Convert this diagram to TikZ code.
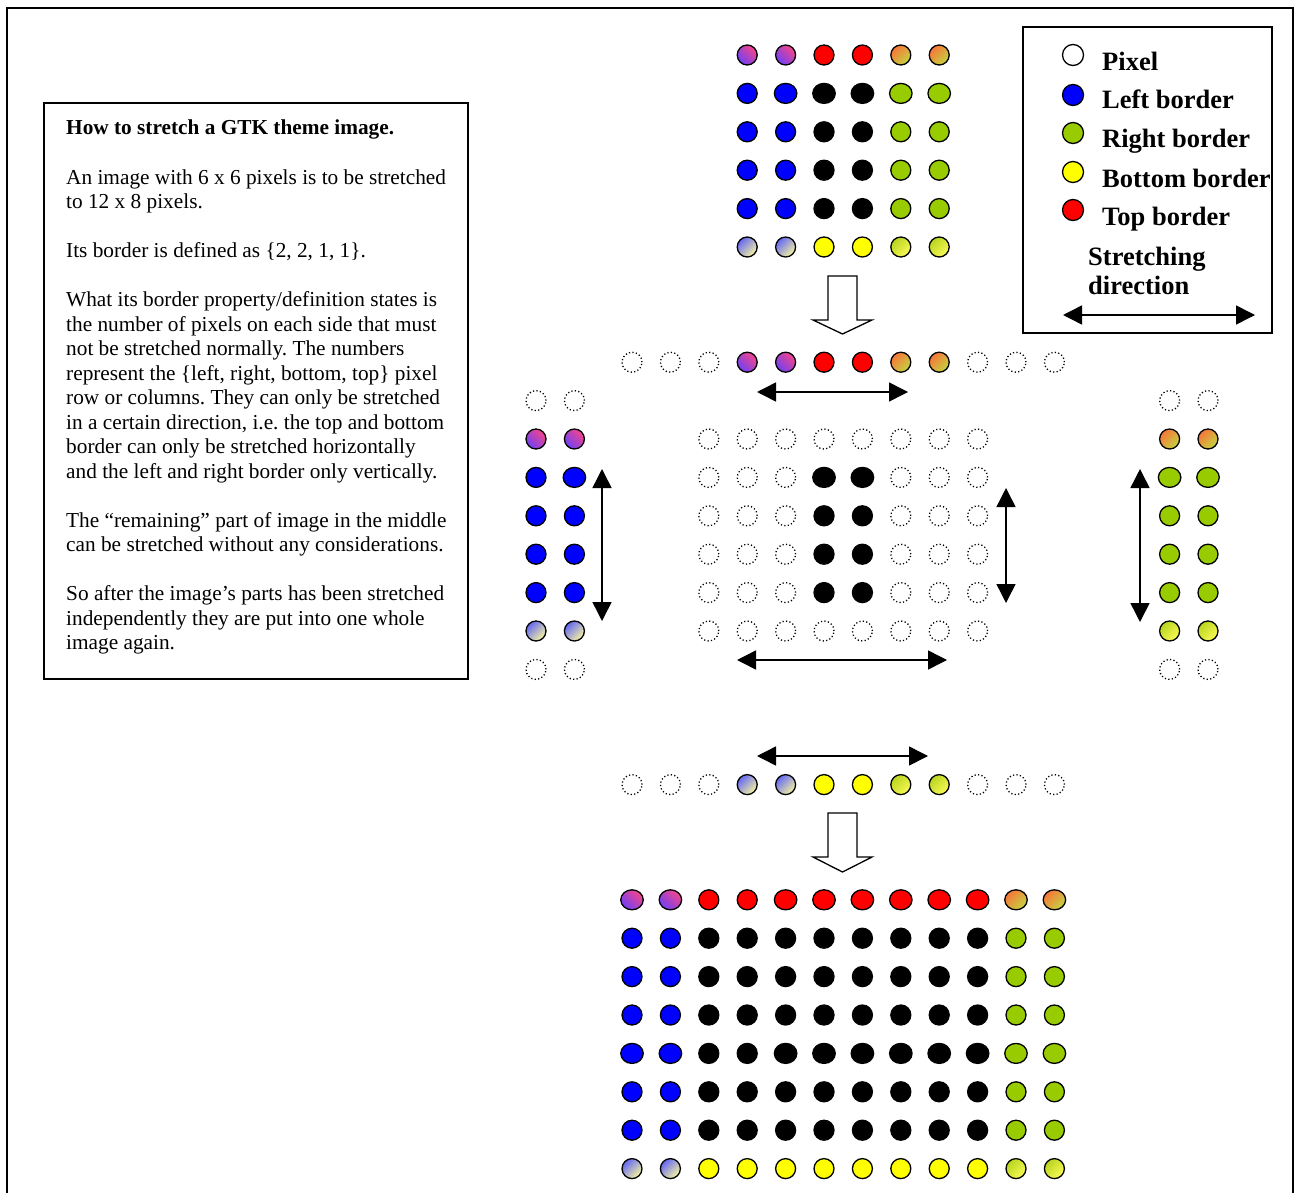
\documentclass[tikz,border=0pt]{standalone}
\usepackage{fontspec}
\setmainfont{Liberation Serif}
\usetikzlibrary{arrows.meta,shapes.geometric}
\frenchspacing
\definecolor{cblue}{HTML}{0000FF}
\definecolor{cgreen}{HTML}{99CC00}
\definecolor{cyellow}{HTML}{FFFF00}
\definecolor{cred}{HTML}{FF0000}
\definecolor{cpink}{HTML}{F5458A}
\definecolor{cviolet}{HTML}{7040F5}
\definecolor{corange}{HTML}{F7753A}
\definecolor{colive}{HTML}{C4D440}
\definecolor{cpaleblue}{HTML}{6468F2}
\definecolor{cpaleyellow}{HTML}{F8F6A0}
\definecolor{cygreen}{HTML}{B8D420}
\definecolor{cyyellow}{HTML}{FAFA55}
\tikzset{
  pix/.style={circle,draw=black,line width=1.3pt,minimum size=20pt,inner sep=0pt},
  wide/.style={ellipse,minimum width=22.5pt,minimum height=20pt},
  emptypix/.style={circle,draw=black,line width=1.3pt,dash pattern=on 1.2pt off 2.3pt,minimum size=20pt,inner sep=0pt},
  blackpix/.style={pix,fill=black},
  bluepix/.style={pix,fill=cblue},
  greenpix/.style={pix,fill=cgreen},
  yellowpix/.style={pix,fill=cyellow},
  redpix/.style={pix,fill=cred},
  purplepix/.style={pix,top color=cpink,bottom color=cviolet,shading angle=-45},
  orangepix/.style={pix,top color=corange,bottom color=colive,shading angle=45},
  blueypix/.style={pix,top color=cpaleblue,bottom color=cpaleyellow,shading angle=45},
  greenypix/.style={pix,top color=cygreen,bottom color=cyyellow,shading angle=45},
  dbl/.style={{Triangle[length=19pt,width=19pt]}-{Triangle[length=19pt,width=19pt]},line width=1.5pt},
  hollow/.style={draw=black,line width=1.3pt,fill=white,line join=miter},
  frame/.style={draw=black,line width=1.5pt},
  bodytext/.style={anchor=base west,inner sep=0pt,font=\fontsize{21.3}{24.5}\selectfont},
  legtext/.style={anchor=base west,inner sep=0pt,font=\fontsize{26.5}{30}\selectfont\bfseries},
}
\newcommand\pxl[4]{\node[#4] (#1) at ({632+38.4*(#2)},{55+38.4*(#3)}) {};}
\begin{document}
\begin{tikzpicture}[x=1pt,y=-1pt]
\useasboundingbox (0,0) rectangle (1297,1193);
\fill[white] (0,0) rectangle (1297,1193);
% outer frame (open at the bottom)
\draw[frame] (7,1193) -- (7,8) -- (1293,8) -- (1293,1193);

% ---- text box ----
\draw[frame] (44,103) rectangle (468,679);
\node[bodytext,font=\fontsize{21.3}{24.5}\selectfont\bfseries] (t0) at (66,135) {How to stretch a GTK theme image.};
\foreach \i/\t in {
  2/{An image with 6 x 6 pixels is to be stretched},
  3/{to 12 x 8 pixels.},
  5/{Its border is defined as \{2, 2, 1, 1\}.},
  7/{What its border property/definition states is},
  8/{the number of pixels on each side that must},
  9/{not be stretched normally. The numbers},
  10/{represent the \{left, right, bottom, top\} pixel},
  11/{row or columns. They can only be stretched},
  12/{in a certain direction, i.e. the top and bottom},
  13/{border can only be stretched horizontally},
  14/{and the left and right border only vertically.},
  16/{The “remaining” part of image in the middle},
  17/{can be stretched without any considerations.},
  19/{So after the image’s parts has been stretched},
  20/{independently they are put into one whole},
  21/{image again.}}
  {\node[bodytext] (t\i) at (66,{135+24.5*\i}) {\t};}

% ---- legend ----
\draw[frame] (1023,27) rectangle (1272,333);
\node[pix,minimum size=21pt,fill=white] (lp) at (1073,55) {};
\node[pix,minimum size=21pt,fill=cblue] (ll) at (1073,95) {};
\node[pix,minimum size=21pt,fill=cgreen] (lr) at (1073,133) {};
\node[pix,minimum size=21pt,fill=cyellow] (lb) at (1073,172) {};
\node[pix,minimum size=21pt,fill=cred] (lt) at (1073,210) {};
\node[legtext] (lpt) at (1102,71) {Pixel};
\node[legtext] (llt) at (1102,109) {Left border};
\node[legtext] (lrt) at (1102,148) {Right border};
\node[legtext] (lbt) at (1102,187) {Bottom border};
\node[legtext] (ltt) at (1102,225) {Top border};
\node[legtext] (ls1) at (1088,265) {Stretching};
\node[legtext] (ls2) at (1088,294) {direction};
\coordinate (la) at (1063,315); \coordinate (lb2) at (1255,315);
\draw[dbl] (la) -- (lb2);

% ---- original 6x6 image ----
\foreach \c in {3,4} {\pxl{o-0-\c}{\c}{0}{purplepix}}
\foreach \c in {5,6} {\pxl{o-0-\c}{\c}{0}{redpix}}
\foreach \c in {7,8} {\pxl{o-0-\c}{\c}{0}{orangepix}}
\pxl{o-1-3}{3}{1}{bluepix}
\pxl{o-1-4}{4}{1}{bluepix,wide}
\foreach \c in {5,6} {\pxl{o-1-\c}{\c}{1}{blackpix,wide}}
\foreach \c in {7,8} {\pxl{o-1-\c}{\c}{1}{greenpix,wide}}
\foreach \r in {2,...,4} {
  \foreach \c in {3,4} {\pxl{o-\r-\c}{\c}{\r}{bluepix}}
  \foreach \c in {5,6} {\pxl{o-\r-\c}{\c}{\r}{blackpix}}
  \foreach \c in {7,8} {\pxl{o-\r-\c}{\c}{\r}{greenpix}}
}
\foreach \c in {3,4} {\pxl{o-5-\c}{\c}{5}{blueypix}}
\foreach \c in {5,6} {\pxl{o-5-\c}{\c}{5}{yellowpix}}
\foreach \c in {7,8} {\pxl{o-5-\c}{\c}{5}{greenypix}}

% hollow arrow 1
\draw[hollow] (828,276) -- (857,276) -- (857,320) -- (872,320) -- (842.5,334) -- (813,320) -- (828,320) -- cycle;

% ---- top border row ----
\foreach \c in {0,1,2,9,10,11} {\pxl{tb-\c}{\c}{8}{emptypix}}
\foreach \c in {3,4} {\pxl{tb-\c}{\c}{8}{purplepix}}
\foreach \c in {5,6} {\pxl{tb-\c}{\c}{8}{redpix}}
\foreach \c in {7,8} {\pxl{tb-\c}{\c}{8}{orangepix}}
\coordinate (a1s) at (757,392); \coordinate (a1e) at (908,392);
\draw[dbl] (a1s) -- (a1e);

% ---- left border column ----
\foreach \c/\n in {-2.5/a,-1.5/b} {
  \pxl{lc-9-\n}{\c}{9}{emptypix}
  \pxl{lc-10-\n}{\c}{10}{purplepix}
  \foreach \r in {12,13,14} {\pxl{lc-\r-\n}{\c}{\r}{bluepix}}
  \pxl{lc-15-\n}{\c}{15}{blueypix}
  \pxl{lc-16-\n}{\c}{16}{emptypix}
}
\pxl{lc-11-a}{-2.5}{11}{bluepix}
\pxl{lc-11-b}{-1.5}{11}{bluepix,wide}
\coordinate (a2s) at (602,469); \coordinate (a2e) at (602,621);
\draw[dbl] (a2s) -- (a2e);

% ---- middle part ----
\foreach \r in {10,...,15} {
  \foreach \c in {2,3,4,7,8,9} {\pxl{m-\r-\c}{\c}{\r}{emptypix}}
}
\foreach \c in {5,6} {\pxl{m-10-\c}{\c}{10}{emptypix}\pxl{m-15-\c}{\c}{15}{emptypix}}
\foreach \c in {5,6} {
  \pxl{m-11-\c}{\c}{11}{blackpix,wide}
  \foreach \r in {12,13,14} {\pxl{m-\r-\c}{\c}{\r}{blackpix}}
}
\coordinate (a3s) at (1006,488); \coordinate (a3e) at (1006,603);
\draw[dbl] (a3s) -- (a3e);
\coordinate (a4s) at (737,660); \coordinate (a4e) at (947,660);
\draw[dbl] (a4s) -- (a4e);

% ---- right border column ----
\foreach \c/\n in {14/a,15/b} {
  \pxl{rc-9-\n}{\c}{9}{emptypix}
  \pxl{rc-10-\n}{\c}{10}{orangepix}
  \pxl{rc-11-\n}{\c}{11}{greenpix,wide}
  \foreach \r in {12,13,14} {\pxl{rc-\r-\n}{\c}{\r}{greenpix}}
  \pxl{rc-15-\n}{\c}{15}{greenypix}
  \pxl{rc-16-\n}{\c}{16}{emptypix}
}
\coordinate (a5s) at (1140,469); \coordinate (a5e) at (1140,622);
\draw[dbl] (a5s) -- (a5e);

% ---- bottom border row ----
\coordinate (a6s) at (757,756); \coordinate (a6e) at (928,756);
\draw[dbl] (a6s) -- (a6e);
\foreach \c in {0,1,2,9,10,11} {\pxl{bb-\c}{\c}{19}{emptypix}}
\foreach \c in {3,4} {\pxl{bb-\c}{\c}{19}{blueypix}}
\foreach \c in {5,6} {\pxl{bb-\c}{\c}{19}{yellowpix}}
\foreach \c in {7,8} {\pxl{bb-\c}{\c}{19}{greenypix}}

% hollow arrow 2
\draw[hollow] (828,813) -- (857,813) -- (857,857) -- (872,857) -- (842.5,872) -- (813,857) -- (828,857) -- cycle;

% ---- final 12x8 image ----
\foreach \c in {0,1} {\pxl{f-22-\c}{\c}{22}{purplepix,wide}}
\foreach \c in {2,3} {\pxl{f-22-\c}{\c}{22}{redpix}}
\foreach \c in {4,...,9} {\pxl{f-22-\c}{\c}{22}{redpix,wide}}
\foreach \c in {10,11} {\pxl{f-22-\c}{\c}{22}{orangepix,wide}}
\foreach \r in {23,24,25,27,28} {
  \foreach \c in {0,1} {\pxl{f-\r-\c}{\c}{\r}{bluepix}}
  \foreach \c in {2,...,9} {\pxl{f-\r-\c}{\c}{\r}{blackpix}}
  \foreach \c in {10,11} {\pxl{f-\r-\c}{\c}{\r}{greenpix}}
}
\foreach \c in {0,1} {\pxl{f-26-\c}{\c}{26}{bluepix,wide}}
\foreach \c in {2,3} {\pxl{f-26-\c}{\c}{26}{blackpix}}
\foreach \c in {4,...,9} {\pxl{f-26-\c}{\c}{26}{blackpix,wide}}
\foreach \c in {10,11} {\pxl{f-26-\c}{\c}{26}{greenpix,wide}}
\foreach \c in {0,1} {\pxl{f-29-\c}{\c}{29}{blueypix}}
\foreach \c in {2,...,9} {\pxl{f-29-\c}{\c}{29}{yellowpix}}
\foreach \c in {10,11} {\pxl{f-29-\c}{\c}{29}{greenypix}}
\end{tikzpicture}
\end{document}
